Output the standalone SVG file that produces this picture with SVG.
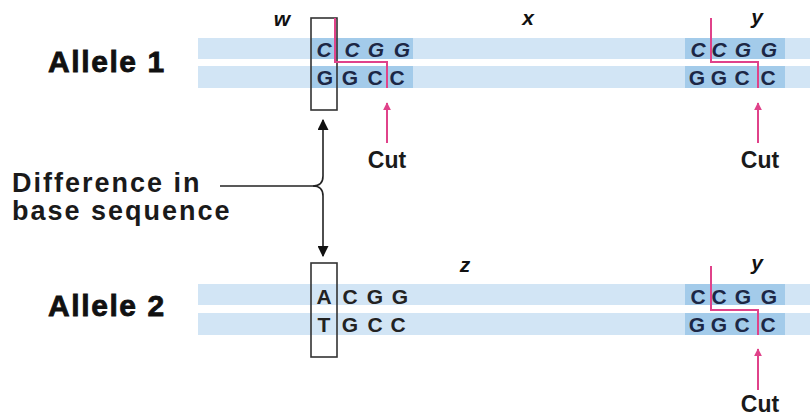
<svg xmlns="http://www.w3.org/2000/svg" width="810" height="419" viewBox="0 0 810 419">
  <defs>
    <style>
      .band { fill: #d2e5f5; }
      .site { fill: #a3cbea; }
      .base { font-family: "Liberation Sans", Arial, sans-serif; font-weight: bold; font-size: 21px; fill: #1c2745; text-anchor: middle; }
      .it { font-style: italic; }
      .plain { fill: #222; }
      .title { font-family: "Liberation Sans", Arial, sans-serif; font-weight: bold; font-size: 30px; fill: #111; stroke: #111; stroke-width: 0.8px; letter-spacing: 1.6px; }
      .note { font-family: "Liberation Sans", Arial, sans-serif; font-weight: bold; font-size: 27px; fill: #1a1a1a; letter-spacing: 2px; }
      .lab { font-family: "Liberation Sans", Arial, sans-serif; font-weight: bold; font-style: italic; font-size: 21px; fill: #111; text-anchor: middle; }
      .cut { font-family: "Liberation Sans", Arial, sans-serif; font-weight: bold; font-size: 23px; fill: #1a1a1a; text-anchor: middle; }
      .box { fill: none; stroke: #333; stroke-width: 1.6; }
      .pink { fill: none; stroke: #e0428a; stroke-width: 2; }
      .line { fill: none; stroke: #222; stroke-width: 1.6; }
    </style>
    <marker id="pinkHead" viewBox="0 0 10 10" refX="9" refY="5" markerWidth="8" markerHeight="8" markerUnits="userSpaceOnUse" orient="auto">
      <path d="M0,0 L10,5 L0,10 Z" fill="#e0428a"/>
    </marker>
    <marker id="blackHead" viewBox="0 0 10 10" refX="9" refY="5" markerWidth="11" markerHeight="11" markerUnits="userSpaceOnUse" orient="auto">
      <path d="M0,0 L10,5 L0,10 Z" fill="#111"/>
    </marker>
  </defs>

  <rect width="810" height="419" fill="#ffffff"/>

  <!-- Allele 1 DNA strands -->
  <g id="allele1">
    <rect class="band" x="198" y="38" width="612" height="21"/>
    <rect class="band" x="198" y="66" width="612" height="22"/>
    <rect class="site" x="311" y="38" width="102" height="21"/>
    <rect class="site" x="311" y="66" width="102" height="22"/>
    <rect class="site" x="685" y="38" width="100" height="21"/>
    <rect class="site" x="685" y="66" width="100" height="22"/>
    <text class="title" x="48" y="72">Allele 1</text>
    <text class="lab" x="282" y="26">w</text>
    <text class="lab" x="528" y="25">x</text>
    <text class="lab" x="757" y="24">y</text>
    <g class="base it">
      <text x="324" y="57">C</text><text x="352" y="57">C</text><text x="376" y="57">G</text><text x="402" y="57">G</text>
      <text x="698" y="57">C</text><text x="719" y="57">C</text><text x="743" y="57">G</text><text x="769" y="57">G</text>
    </g>
    <g class="base">
      <text x="325" y="85">G</text><text x="350" y="85">G</text><text x="375" y="85">C</text><text x="397" y="85">C</text>
      <text x="697" y="85">G</text><text x="719" y="85">G</text><text x="742" y="85">C</text><text x="768" y="85">C</text>
    </g>
  </g>

  <!-- Allele 2 DNA strands -->
  <g id="allele2">
    <rect class="band" x="198" y="284" width="612" height="21"/>
    <rect class="band" x="198" y="313" width="612" height="22"/>
    <rect class="site" x="685" y="284" width="100" height="21"/>
    <rect class="site" x="685" y="313" width="100" height="22"/>
    <text class="title" x="48" y="316">Allele 2</text>
    <text class="lab" x="465" y="272">z</text>
    <text class="lab" x="757" y="270">y</text>
    <g class="base plain">
      <text x="324" y="304">A</text><text x="350" y="304">C</text><text x="375" y="304">G</text><text x="400" y="304">G</text>
      <text x="324" y="332">T</text><text x="350" y="332">G</text><text x="375" y="332">C</text><text x="398" y="332">C</text>
    </g>
    <g class="base">
      <text x="698" y="304">C</text><text x="719" y="304">C</text><text x="743" y="304">G</text><text x="769" y="304">G</text>
      <text x="697" y="332">G</text><text x="719" y="332">G</text><text x="742" y="332">C</text><text x="768" y="332">C</text>
    </g>
  </g>

  <!-- boxes around the differing base pair -->
  <g id="box1"><rect class="box" x="311" y="18" width="26" height="92"/></g>
  <g id="box2"><rect class="box" x="311" y="263" width="26" height="94"/></g>

  <!-- staggered cut lines of the restriction sites -->
  <g id="cut-sites">
    <path class="pink" d="M335,18 V62 H387 V88"/>
    <path class="pink" d="M711,18 V62 H758 V88"/>
    <path class="pink" d="M711,266 V310 H758 V335"/>
  </g>

  <g id="label-difference">
    <text class="note" x="12" y="192">Difference in</text>
    <text class="note" x="12" y="220">base sequence</text>
  </g>

  <g id="cut-labels">
    <text class="cut" x="387" y="168">Cut</text>
    <text class="cut" x="760" y="168">Cut</text>
    <text class="cut" x="760" y="412">Cut</text>
  </g>

  <!-- connectors -->
  <g id="connectors">
    <path class="pink" d="M387,143 V103" marker-end="url(#pinkHead)"/>
    <path class="pink" d="M758,143 V103" marker-end="url(#pinkHead)"/>
    <path class="pink" d="M758,390 V349" marker-end="url(#pinkHead)"/>
    <path class="line" d="M220,186 H313"/>
    <path class="line" d="M313,186 Q323,186 323,176 V120" marker-end="url(#blackHead)"/>
    <path class="line" d="M313,186 Q323,186 323,196 V256" marker-end="url(#blackHead)"/>
  </g>
</svg>
